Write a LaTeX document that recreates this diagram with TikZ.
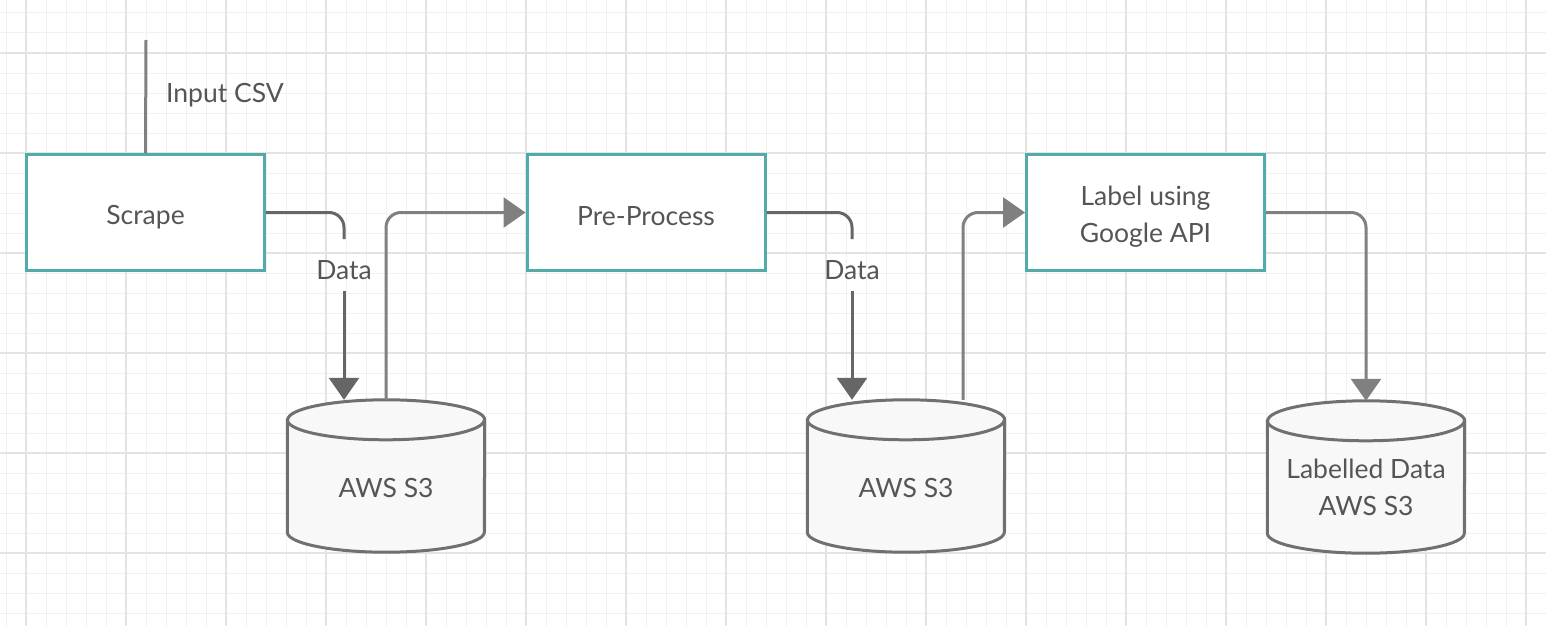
\documentclass[tikz,border=0pt]{standalone}
\usepackage{fontspec}
\setmainfont{Lato}
\usetikzlibrary{arrows.meta}
\definecolor{tealb}{HTML}{52AAA9}
\definecolor{gridmin}{HTML}{F1F1F1}
\definecolor{gridmaj}{HTML}{E4E4E4}
\definecolor{txtc}{HTML}{555555}
\definecolor{darkconn}{HTML}{666666}
\definecolor{lightconn}{HTML}{808080}
\definecolor{cylfill}{HTML}{F8F8F8}
\definecolor{cylline}{HTML}{707070}
\begin{document}
\begin{tikzpicture}[x=1pt,y=-1pt,
  every node/.style={font=\fontsize{26.5}{37}\selectfont, text=txtc},
  procbox/.style={draw=tealb, fill=white, line width=3pt, minimum width=238pt, minimum height=116pt, inner sep=0pt},
  cylnode/.style={minimum width=197pt, minimum height=152pt, inner sep=0pt},
  lbl/.style={inner sep=0pt, align=center},
  tip/.style={-{Triangle[width=30pt,length=22pt]}},
  darrow/.style={draw=darkconn, line width=3pt, tip},
  larrow/.style={draw=lightconn, line width=3pt, rounded corners=15pt, tip},
  dline/.style={draw=darkconn, line width=3pt, rounded corners=15pt},
  inline/.style={draw=lightconn, line width=3pt},
  cylbody/.style={fill=cylfill, draw=cylline, line width=3pt}
]
\useasboundingbox (0,0) rectangle (1546,626);
\fill[white] (0,0) rectangle (1546,626);
% grid
\foreach \x in {6,26,...,1546} \draw[gridmin, line width=1pt] (\x,0) -- (\x,626);
\foreach \y in {13,33,...,626} \draw[gridmin, line width=1pt] (0,\y) -- (1546,\y);
\foreach \x in {26,126,...,1546} \draw[gridmaj, line width=1.6pt] (\x,0) -- (\x,626);
\foreach \y in {53,153,...,626} \draw[gridmaj, line width=1.6pt] (0,\y) -- (1546,\y);
% cylinders
\node[cylnode] (s1) at (386,476) {};
\node[cylnode] (s2) at (906,476) {};
\node[cylnode] (s3) at (1366,477) {};
\foreach \n in {s1,s2,s3} {
  \filldraw[cylbody] ([yshift=-20pt]\n.north west) -- ([yshift=20pt]\n.south west)
     arc[start angle=180, end angle=360, x radius=98.5pt, y radius=20pt]
     -- ([yshift=-20pt]\n.north east)
     arc[start angle=0, end angle=180, x radius=98.5pt, y radius=20pt] -- cycle;
  \draw[cylbody, fill=none] ([yshift=-20pt]\n.north west)
     arc[start angle=180, end angle=360, x radius=98.5pt, y radius=20pt];
}
\node[lbl] (s1t) at ([yshift=-12pt]s1.center) {AWS S3};
\node[lbl] (s2t) at ([yshift=-12pt]s2.center) {AWS S3};
\node[lbl] (s3t) at ([yshift=-10pt]s3.center) {Labelled Data\\AWS S3};
% process boxes
\node[procbox] (scrape) at (145.5,212.5) {};
\node[procbox] (pre) at (646,212.5) {};
\node[procbox] (lab) at (1145.5,212.5) {};
\node[lbl] (scrapet) at ([yshift=-5pt]scrape.center) {Scrape};
\node[lbl] (pret) at ([yshift=-4pt]pre.center) {Pre-Process};
\node[lbl] (labt) at ([yshift=-4pt]lab.center) {Label using\\Google API};
% labels
\node[lbl] (d1) at (344,270) {Data};
\node[lbl] (d2) at (852,270) {Data};
\node[lbl, anchor=west] (csv) at (166,95) {Input CSV};
\coordinate (csvtop) at (146,40);
% connectors
\draw[inline] (scrape.north) -- (csvtop);
\draw[dline] (scrape.east) -| ([yshift=21pt]d1.north);
\draw[darrow] ([yshift=-11pt]d1.south) -- (d1.south |- s1.north);
\draw[larrow] (s1.north) |- (pre.west);
\draw[dline] (pre.east) -| ([yshift=21pt]d2.north);
\draw[darrow] ([yshift=-11pt]d2.south) -- (d2.south |- s2.north);
\draw[larrow] ([xshift=57pt]s2.north) |- (lab.west);
\draw[larrow] (lab.east) -| (s3.north);
\end{tikzpicture}
\end{document}
